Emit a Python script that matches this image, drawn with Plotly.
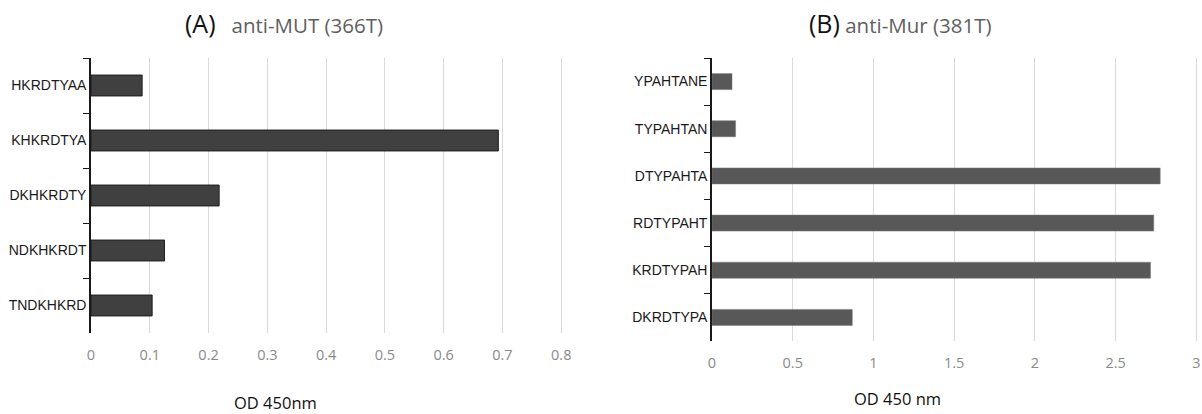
import plotly.graph_objects as go

W, H = 1202, 414

# Panel A data (top to bottom)
peptides_a = ["HKRDTYAA", "KHKRDTYA", "DKHKRDTY", "NDKHKRDT", "TNDKHKRD"]
od_a = [0.087, 0.693, 0.218, 0.125, 0.104]
ticks_a = [0, 0.1, 0.2, 0.3, 0.4, 0.5, 0.6, 0.7, 0.8]

# Panel B data (top to bottom)
peptides_b = ["YPAHTANE", "TYPAHTAN", "DTYPAHTA", "RDTYPAHT", "KRDTYPAH", "DKRDTYPA"]
od_b = [0.124, 0.146, 2.776, 2.736, 2.716, 0.869]
ticks_b = [0, 0.5, 1, 1.5, 2, 2.5, 3]

title_a_tag, title_a = "(A)", "anti-MUT (366T)"
title_b_tag, title_b = "(B)", "anti-Mur (381T)"
xlabel_a = "OD 450nm"
xlabel_b = "OD 450 nm"

def px(x):
    return x / W

def py(y):
    return 1 - y / H

cat_font = dict(family="Liberation Sans, Arial, sans-serif", size=14, color="#1a1a1a")
num_font = dict(family="Open Sans, Liberation Sans, sans-serif", size=14.5, color="#8a8a8a")

fig = go.Figure()
fig.add_trace(go.Bar(
    x=od_a, y=peptides_a, orientation="h", width=0.38,
    marker=dict(color="#404040", line=dict(color="#1e1e1e", width=1)),
    xaxis="x", yaxis="y", showlegend=False, hoverinfo="x+y"))
fig.add_trace(go.Bar(
    x=od_b, y=peptides_b, orientation="h", width=0.34,
    marker=dict(color="#585858", line=dict(color="#7a7a7a", width=0.5)),
    xaxis="x2", yaxis="y2", showlegend=False, hoverinfo="x+y"))

xcommon = dict(showgrid=True, gridcolor="#d9d9d9", gridwidth=1.3, zeroline=False,
               showline=False, ticks="outside", ticklen=9, tickcolor="rgba(0,0,0,0)",
               tickfont=num_font, fixedrange=True, automargin=False)
ycommon = dict(type="category", autorange="reversed", showgrid=False, zeroline=False,
               showline=True, linecolor="#1a1a1a", linewidth=1.5,
               ticks="outside", tickson="boundaries", ticklen=6, tickcolor="#1a1a1a",
               tickwidth=1, tickfont=cat_font, fixedrange=True, automargin=False)

fig.update_layout(
    width=W, height=H,
    margin=dict(l=0, r=0, t=0, b=0, autoexpand=False),
    paper_bgcolor="white", plot_bgcolor="white",
    bargap=0.6,
    xaxis=dict(domain=[px(91), px(563)], range=[0, 0.803], tickvals=ticks_a,
               ticktext=[f"{v:g}" for v in ticks_a], anchor="y", **xcommon),
    yaxis=dict(domain=[py(333), py(58)], anchor="x", categoryarray=peptides_a, **ycommon),
    xaxis2=dict(domain=[px(712), px(1198)], range=[0, 3.01], tickvals=ticks_b,
                ticktext=[f"{v:g}" for v in ticks_b], anchor="y2", **xcommon),
    yaxis2=dict(domain=[py(341), py(58)], anchor="x2", categoryarray=peptides_b, **ycommon),
)

title_font_family = "Open Sans, Liberation Sans, sans-serif"
ann = dict(xref="paper", yref="paper", showarrow=False, xanchor="center", yanchor="middle")
fig.add_annotation(
    x=px(284), y=py(23), **ann,
    text=f"<span style='color:#111;font-size:25px'>{title_a_tag}</span>&nbsp;&nbsp; {title_a}",
    font=dict(family=title_font_family, size=20.5, color="#5f5f5f"))
fig.add_annotation(
    x=px(900), y=py(23), **ann,
    text=f"<span style='color:#111;font-size:25px'>{title_b_tag}</span> {title_b}",
    font=dict(family=title_font_family, size=20.5, color="#5f5f5f"))
fig.add_annotation(
    x=px(275), y=py(402), **ann,
    text=xlabel_a, font=dict(family=title_font_family, size=16.5, color="#111"))
fig.add_annotation(
    x=px(897), y=py(398), **ann,
    text=xlabel_b, font=dict(family=title_font_family, size=16.5, color="#111"))

fig.write_html("out.html")
